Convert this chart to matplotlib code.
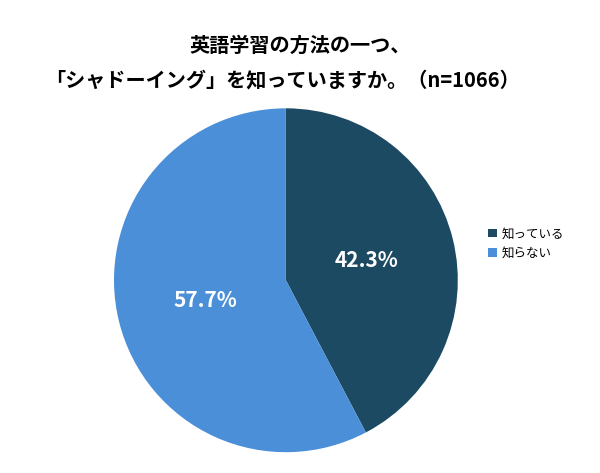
import matplotlib
matplotlib.use("Agg")
import matplotlib.pyplot as plt

plt.rcParams['font.family'] = ['Noto Sans CJK JP', 'DejaVu Sans']

labels = ["知っている", "知らない"]
values = [42.3, 57.7]
colors = ["#1d4a63", "#4a8fd8"]

fig = plt.figure(figsize=(6, 4.73), dpi=100)
ax = fig.add_axes([0.190, 0.044, 0.573, 0.727])
wedges, texts, autotexts = ax.pie(
    values, colors=colors, startangle=90, counterclock=False,
    autopct=lambda p: f"{p:.1f}%", pctdistance=0.48,
    textprops=dict(color="white", fontsize=15, fontweight="bold"))
ax.set_aspect("auto")
ax.set_xlim(-1, 1)
ax.set_ylim(-1, 1)

fig.text(0.5, 0.905, "英語学習の方法の一つ、", ha="center", va="center",
         fontsize=14.5, fontweight="bold")
fig.text(0.47, 0.830, "「シャドーイング」を知っていますか。（n=1066）", ha="center",
         va="center", fontsize=14.5, fontweight="bold")

fig.legend(wedges, labels, loc="center left", bbox_to_anchor=(0.795, 0.485),
           frameon=False, fontsize=9, handlelength=0.7, handleheight=0.7,
           handletextpad=0.4, labelspacing=0.5)

fig.savefig("out.png", dpi=100)
